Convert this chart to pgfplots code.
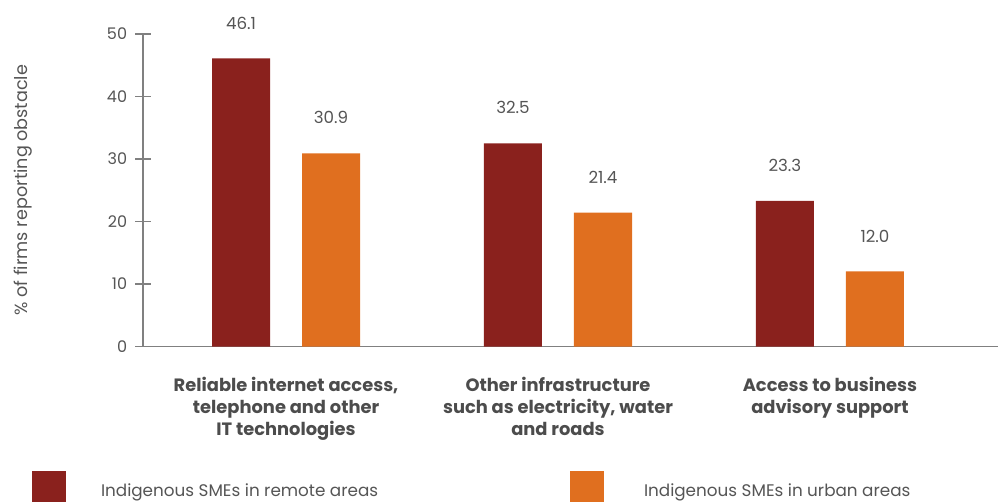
\documentclass[border=0pt]{standalone}
\usepackage{fontspec}
\setmainfont{Poppins}
\usepackage{pgfplots}
\pgfplotsset{compat=1.18}
\definecolor{remote}{HTML}{8A211D}
\definecolor{urban}{HTML}{E06F1F}
\definecolor{axisgray}{HTML}{808080}
\definecolor{txtgray}{HTML}{555555}
\begin{document}
\begin{tikzpicture}
\begin{axis}[
  width=641.25pt, height=234.375pt, scale only axis,
  xmin=-0.526, xmax=2.618, ymin=0, ymax=50,
  axis x line*=bottom, axis y line*=left,
  axis line style={axisgray, line width=0.9pt},
  clip=false,
  ybar, bar width=43.5pt,
  ytick={0,10,20,30,40,50},
  ytick style={axisgray, line width=0.9pt},
  tick align=center, major tick length=11.5pt,
  xtick={0,1,2}, xtick style={draw=none},
  xticklabels={{Reliable internet access,\\telephone and other\\IT technologies},
               {Other infrastructure\\such as electricity, water\\and roads},
               {Access to business\\advisory support}},
  xticklabel style={align=center, font=\bfseries\fontsize{13.4}{16.5}\selectfont, text=txtgray!90!black, yshift=-14pt},
  yticklabel style={font=\fontsize{12}{14}\selectfont, text=txtgray, inner sep=0pt, xshift=-6pt},
  /pgf/number format/assume math mode=true,
  ylabel={\% of firms reporting obstacle},
  ylabel style={at={(axis description cs:-0.1405,0.5)}, anchor=center, font=\fontsize{13.2}{15}\selectfont, text=txtgray},
  nodes near coords,
  nodes near coords style={anchor=center, yshift=26.6pt, font=\fontsize{12.5}{14}\selectfont, text=txtgray,
     /pgf/number format/.cd, fixed, fixed zerofill, precision=1},
  legend style={draw=none, fill=none, inner sep=0pt, outer sep=0pt,
    at={(rel axis cs:-0.1298,-0.398)}, anchor=north west,
    legend columns=2, column sep=0pt, row sep=0pt,
    nodes={inner sep=0pt, font=\fontsize{12.6}{14}\selectfont, text=txtgray}},
]
\addplot[fill=remote, draw=none, bar shift=-33.75pt,
  legend image code/.code={\fill[remote] (0,-8.3pt) rectangle (25.5pt,15pt); \path (51.75pt,0);}]
  coordinates {(0,46.1) (1,32.5) (2,23.3)};
\addlegendentry{\makebox[351.75pt][l]{Indigenous SMEs in remote areas}}
\addplot[fill=urban, draw=none, bar shift=33.75pt,
  legend image code/.code={\fill[urban] (0,-8.3pt) rectangle (25.5pt,15pt); \path (55.5pt,0);}]
  coordinates {(0,30.9) (1,21.4) (2,12.0)};
\addlegendentry{Indigenous SMEs in urban areas}
\path (rel axis cs:-0.16725,-0.4976) rectangle (rel axis cs:1.00234,1.1088);
\end{axis}
\end{tikzpicture}
\end{document}
